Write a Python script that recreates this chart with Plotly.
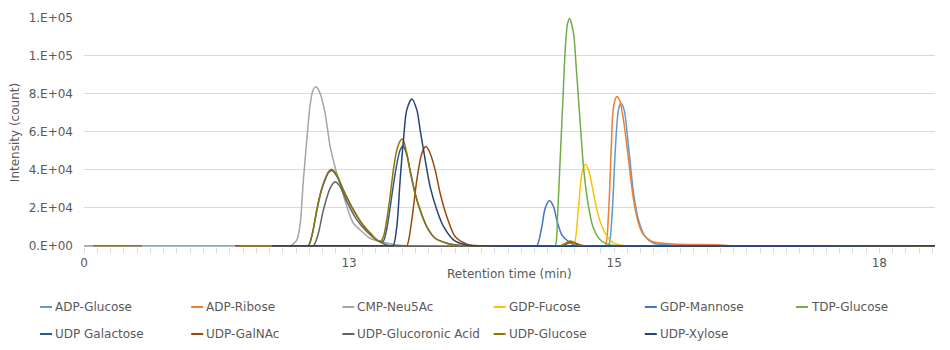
import plotly.graph_objects as go

# ---------------- data (x in axis index units; labels every 20 units) ----------------
X_END = 64.2
TICK_LABELS = {0: "0", 20: "13", 40: "15", 60: "18"}

SERIES_NAMES = ["ADP-Glucose", "ADP-Ribose", "CMP-Neu5Ac", "GDP-Fucose", "GDP-Mannose",
                "TDP-Glucose", "UDP Galactose", "UDP-GalNAc", "UDP-Glucoronic Acid",
                "UDP-Glucose", "UDP-Xylose"]

ADP_GLUCOSE_X = [0, 39.3, 39.57, 39.83, 40.08, 40.32, 40.51, 40.75, 41.08, 41.46, 41.83, 42.34, 42.97, 45.74, 46.49, 64.2]
ADP_GLUCOSE_Y = [0, 0, 0, 15400, 50500, 71600, 75100, 71600, 52300, 27700, 13700, 4900, 1400, 300, 0, 0]

ADP_RIBOSE_X = [14.2, 39.0, 39.32, 39.57, 39.77, 39.95, 40.20, 40.40, 40.70, 41.08, 41.46, 41.83, 42.21, 42.85, 44.45, 48.15, 48.75, 64.2]
ADP_RIBOSE_Y = [0, 0, 0, 17200, 50500, 73300, 78600, 76800, 66300, 45300, 24200, 11900, 5800, 2300, 1000, 500, 0, 0]

CMP_NEU5AC_X = [0, 15.3, 15.55, 16.05, 16.30, 16.55, 16.81, 17.06, 17.28, 17.49, 17.81, 18.19, 18.57, 19.07, 19.45, 19.83, 20.32, 20.83, 21.58, 22.34, 23.32, 24.23, 64.2]
CMP_NEU5AC_Y = [0, 0, 0, 3000, 11000, 34700, 55800, 74200, 82100, 83800, 80400, 69800, 52300, 38200, 29500, 20700, 11900, 8400, 4000, 2300, 800, 0, 0]

GDP_FUCOSE_X = [14.2, 36.6, 36.93, 37.31, 37.56, 37.81, 38.06, 38.44, 38.82, 39.32, 39.95, 40.96, 64.2]
GDP_FUCOSE_Y = [0, 0, 0, 20700, 38200, 43000, 40000, 27700, 15400, 6700, 1400, 0, 0]

GDP_MANNOSE_X = [14.2, 33.9, 34.17, 34.54, 34.79, 35.12, 35.42, 35.67, 36.05, 36.55, 37.18, 64.2]
GDP_MANNOSE_Y = [0, 0, 0, 10200, 19800, 23900, 20700, 13700, 5800, 2300, 0, 0]

TDP_GLUCOSE_X = [14.2, 35.3, 35.55, 35.72, 35.92, 36.13, 36.30, 36.48, 36.63, 36.93, 37.13, 37.31, 37.49, 37.68, 37.98, 38.39, 38.94, 39.70, 40.45, 64.2]
TDP_GLUCOSE_Y = [0, 0, 0, 15400, 45300, 76800, 103000, 117000, 119800, 111900, 94400, 76800, 59300, 41700, 24200, 10200, 3200, 500, 0, 0]

UDP_GALACTOSE_X = [14.2, 16.7, 16.93, 17.21, 17.56, 17.81, 18.06, 18.44, 18.69, 19.07, 19.57, 20.20, 20.96, 21.71, 22.11, 22.38,
                   22.59, 22.84, 23.09, 23.34, 23.60, 23.85, 24.08, 24.35, 24.60, 24.98, 25.36, 25.86, 26.49, 27.37, 28.38, 29.13, 64.2]
UDP_GALACTOSE_Y = [0, 0, 0, 5800, 18500, 26500, 32400, 38500, 39700, 36800, 29000, 20400, 11700, 5700, 2900, 2000,
                   2500, 9000, 20000, 32000, 43000, 50500, 52600, 48000, 39500, 27500, 18700, 10000, 4000, 1400, 200, 0, 0]

UDP_GALNAC_X = [11.4, 24.1, 24.35, 24.73, 25.11, 25.49, 25.79, 26.11, 26.49, 26.87, 27.37, 28.00, 28.88, 29.89, 35.92, 36.83, 37.74, 64.2]
UDP_GALNAC_Y = [0, 0, 0, 13700, 34700, 48800, 52300, 48800, 40000, 27700, 15400, 4900, 900, 0, 0, 2000, 0, 0]

UDP_GLUCORONIC_X = [14.2, 17.05, 17.31, 17.66, 18.06, 18.57, 18.94, 19.32, 19.83, 20.58, 21.34, 22.09, 22.84, 23.47, 64.2]
UDP_GLUCORONIC_Y = [0, 0, 0, 6000, 18900, 30400, 33800, 31200, 23300, 13700, 7500, 3200, 500, 0, 0]

UDP_GLUCOSE_X = [0.68, 4.38, None, 11.77, 16.7, 16.93, 17.21, 17.56, 17.81, 18.06, 18.44, 18.69, 19.07, 19.57, 20.20, 20.96, 21.71,
                 22.11, 22.38, 22.59, 22.84, 23.09, 23.34, 23.60, 23.90, 24.05, 24.35, 24.60, 24.98, 25.36, 25.86, 26.49,
                 27.37, 28.38, 29.13, 35.92, 36.68, 37.43, 64.2]
UDP_GLUCOSE_Y = [0, 0, None, 0, 0, 0, 6000, 18900, 27000, 33000, 39100, 40400, 37400, 29500, 20700, 11900, 5800,
                 3000, 2500, 4900, 13700, 26000, 40000, 50500, 55800, 56200, 48800, 40000, 27700, 18900, 10200, 4000,
                 1400, 200, 0, 0, 2500, 0, 0]

UDP_XYLOSE_X = [14.19, 23.05, 23.32, 23.60, 23.85, 24.10, 24.35, 24.73, 25.11, 25.36, 25.74, 26.11, 26.62, 27.12, 27.87, 28.88, 29.89, 64.2]
UDP_XYLOSE_Y = [0, 0, 0, 10200, 34700, 55800, 71600, 77400, 71600, 61000, 45300, 31200, 18900, 10200, 3200, 500, 0, 0]

Y_TICKS = [0, 20000, 40000, 60000, 80000, 100000, 120000]
Y_TICK_LABELS = ["0.E+00", "2.E+04", "4.E+04", "6.E+04", "8.E+04", "1.E+05", "1.E+05"]

SERIES_X = [ADP_GLUCOSE_X, ADP_RIBOSE_X, CMP_NEU5AC_X, GDP_FUCOSE_X, GDP_MANNOSE_X, TDP_GLUCOSE_X,
            UDP_GALACTOSE_X, UDP_GALNAC_X, UDP_GLUCORONIC_X, UDP_GLUCOSE_X, UDP_XYLOSE_X]
SERIES_Y = [ADP_GLUCOSE_Y, ADP_RIBOSE_Y, CMP_NEU5AC_Y, GDP_FUCOSE_Y, GDP_MANNOSE_Y, TDP_GLUCOSE_Y,
            UDP_GALACTOSE_Y, UDP_GALNAC_Y, UDP_GLUCORONIC_Y, UDP_GLUCOSE_Y, UDP_XYLOSE_Y]

# ---------------- styles ----------------
COLORS = ["#5B9BD5", "#ED7D31", "#A5A5A5", "#FFC000", "#4472C4", "#70AD47",
          "#255E91", "#9E480E", "#636363", "#997300", "#264478"]
FONT = "DejaVu Sans"
TEXT_COLOR = "#595959"
GRID = "#d9d9d9"

W, H = 950, 350
PL, PR, PT, PB = 84, 935, 18, 247

fig = go.Figure()
for name, xs, ys, c in zip(SERIES_NAMES, SERIES_X, SERIES_Y, COLORS):
    fig.add_trace(go.Scatter(x=xs, y=ys, mode="lines", name=name,
                             line=dict(color=c, width=1.5, shape="spline", smoothing=0.8),
                             connectgaps=False, showlegend=False, hoverinfo="skip"))

tickvals = list(range(0, 65))
ticktext = [TICK_LABELS.get(v, "") for v in tickvals]

fig.update_layout(
    width=W, height=H,
    margin=dict(l=PL, r=W - PR, t=PT, b=H - PB),
    paper_bgcolor="white", plot_bgcolor="white",
    font=dict(family=FONT, size=12, color=TEXT_COLOR),
    xaxis=dict(range=[0, X_END], tickmode="array", tickvals=tickvals, ticktext=ticktext,
               ticks="outside", ticklen=5, tickcolor=GRID, tickwidth=1,
               ticklabelstandoff=0,
               showgrid=False, zeroline=False, showline=False,
               tickfont=dict(family=FONT, size=12, color=TEXT_COLOR)),
    yaxis=dict(range=[-600, 120000], tickmode="array", tickvals=Y_TICKS, ticktext=Y_TICK_LABELS,
               showgrid=True, gridcolor=GRID, gridwidth=1, zeroline=False, showline=False,
               ticks="", ticklabelstandoff=10,
               title=dict(text="Intensity (count)", standoff=6,
                          font=dict(family=FONT, size=12, color=TEXT_COLOR)),
               tickfont=dict(family=FONT, size=12, color=TEXT_COLOR)),
)

def px_x(p):
    return (p - PL) / (PR - PL)

def px_y(p):
    return (PB - p) / (PB - PT)

# x-axis title placed tight under the tick labels, as in the reference
fig.add_annotation(xref="paper", yref="paper", x=0.5, y=px_y(274), xanchor="center", yanchor="middle",
                   showarrow=False, text="Retention time (min)",
                   font=dict(family=FONT, size=12, color=TEXT_COLOR))

# manual legend (Excel-style short line + label), 6 columns x 2 rows
LEG_COL0, LEG_COL_STEP = 40, 151.2
LEG_ROWS = [307, 334]
for i, (name, c) in enumerate(zip(SERIES_NAMES, COLORS)):
    row, col = divmod(i, 6)
    x0 = LEG_COL0 + col * LEG_COL_STEP
    y0 = LEG_ROWS[row]
    fig.add_shape(type="line", xref="paper", yref="paper",
                  x0=px_x(x0), x1=px_x(x0 + 12), y0=px_y(y0), y1=px_y(y0),
                  line=dict(color=c, width=2))
    fig.add_annotation(xref="paper", yref="paper", x=px_x(x0 + 13), y=px_y(y0),
                       xanchor="left", yanchor="middle", showarrow=False, text=name,
                       font=dict(family=FONT, size=12, color=TEXT_COLOR))

fig.write_html("out.html")
